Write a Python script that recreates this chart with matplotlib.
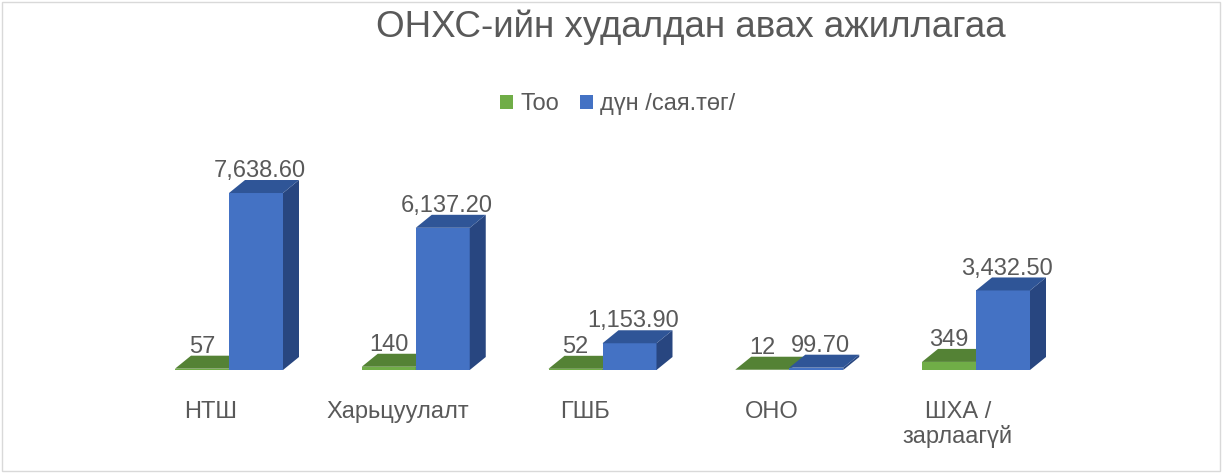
import matplotlib.pyplot as plt
from matplotlib.patches import Polygon, Rectangle, Patch

# data
categories = ['НТШ', 'Харьцуулалт', 'ГШБ', 'ОНО', 'ШХА /\nзарлаагүй']
count_values = [57, 140, 52, 12, 349]
amount_values = [7638.60, 6137.20, 1153.90, 99.70, 3432.50]
series_names = ['Тоо', 'дүн /сая.төг/']

plt.rcParams['font.family'] = ['Liberation Sans', 'DejaVu Sans']
TXT = '#595959'

GREEN_FRONT = '#70AD47'
GREEN_TOP = '#548235'
BLUE_FRONT = '#4472C4'
BLUE_TOP = '#2F5597'
BLUE_SIDE = '#284680'

W, H = 1222, 473
fig = plt.figure(figsize=(W / 100, H / 100), dpi=100)

# axes placed so that x=0 sits at the first blue bar edge, y=0 on the floor line
ymax = 10000
px_per_unit = 0.02317
ax_bottom = 103
ax_h = ymax * px_per_unit
step = 186.75
x0_px = 229
xmin, xmax = -0.6, 4.6
ax = fig.add_axes([(x0_px + xmin * step) / W, ax_bottom / H,
                   (xmax - xmin) * step / W, ax_h / H])
ax.set_xlim(xmin, xmax)
ax.set_ylim(0, ymax)
ax.axis('off')

bw = 54 / step          # bar width in category units
dx = 16 / step          # depth offset
dy = 13 / px_per_unit   # depth offset in value units


def box(x_left, v, front, top, side):
    ax.add_patch(Polygon([(x_left, 0), (x_left + bw, 0), (x_left + bw, v), (x_left, v)],
                         closed=True, facecolor=front, edgecolor='none'))
    ax.add_patch(Polygon([(x_left + bw, 0), (x_left + bw + dx, dy),
                          (x_left + bw + dx, v + dy), (x_left + bw, v)],
                         closed=True, facecolor=side, edgecolor='none'))
    ax.add_patch(Polygon([(x_left, v), (x_left + bw, v),
                          (x_left + bw + dx, v + dy), (x_left + dx, v + dy)],
                         closed=True, facecolor=top, edgecolor='none'))


for i, (c, a) in enumerate(zip(count_values, amount_values)):
    box(i - bw, c, GREEN_FRONT, GREEN_TOP, GREEN_TOP)
    box(i, a, BLUE_FRONT, BLUE_TOP, BLUE_SIDE)

    ax.annotate(f'{c:,}', xy=(i - bw / 2, c + dy), xytext=(0, 2),
                textcoords='offset points', ha='center', va='baseline',
                fontsize=17, color=TXT)
    ax.annotate(f'{a:,.2f}', xy=(i + bw / 2 + dx / 4, a + dy), xytext=(0, 2),
                textcoords='offset points', ha='center', va='baseline',
                fontsize=17, color=TXT)
    ax.annotate(categories[i], xy=(i - 18 / step, 0), xytext=(0, -22),
                textcoords='offset points', ha='center', va='top',
                fontsize=17, color=TXT, linespacing=1.15)

fig.text(691 / W, 1 - 27 / H, 'ОНХС-ийн худалдан авах ажиллагаа',
         ha='center', va='center', fontsize=26.5, color=TXT)

handles = [Patch(facecolor=GREEN_FRONT), Patch(facecolor=BLUE_FRONT)]
fig.legend(handles, series_names, loc='center', bbox_to_anchor=(618 / W, 1 - 104 / H),
           ncol=2, frameon=False, fontsize=17, labelcolor=TXT,
           handlelength=0.55, handleheight=0.55, handletextpad=0.3, columnspacing=0.9)

fig.patches.append(Rectangle((2 / W, 2 / H), (W - 4) / W, (H - 4) / H,
                             transform=fig.transFigure, fill=False,
                             edgecolor='#D9D9D9', linewidth=1))

fig.savefig('out.png', dpi=100)
